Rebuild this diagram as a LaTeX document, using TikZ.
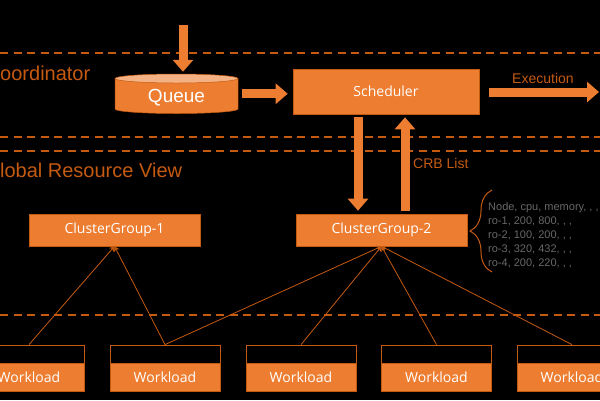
\documentclass[tikz,border=0pt]{standalone}
\usepackage{fontspec}
\setmainfont{Liberation Sans}
\newfontfamily\uifont{Open Sans}
\usetikzlibrary{arrows.meta,decorations.pathreplacing}
\definecolor{org}{HTML}{ED7D31}
\definecolor{dorg}{HTML}{C55A11}
\definecolor{lorg}{HTML}{F4B183}
\definecolor{tgray}{HTML}{686868}
\tikzset{
  blockarrow/.style={draw=org, line width=9pt, -{Triangle[width=20pt,length=12pt]}},
  sepline/.style={draw=dorg, line width=1.6pt, dash pattern=on 8pt off 5.5pt},
  boxnode/.style={fill=org, draw=dorg, line width=0.6pt, text=white, inner sep=0pt,
    font=\uifont\fontsize{14}{16}\selectfont},
  lanelabel/.style={text=dorg, inner sep=0pt, anchor=base west, font=\fontsize{20}{24}\selectfont},
  smalllabel/.style={text=dorg, inner sep=0pt, anchor=base west, font=\fontsize{14}{16}\selectfont},
  wltop/.style={draw=dorg, fill=black, line width=0.8pt, minimum width=110pt, minimum height=18pt, inner sep=0pt},
  wlbot/.style={boxnode, draw=dorg, line width=0.8pt, minimum width=110pt, minimum height=28pt},
  conn/.style={draw=dorg, line width=0.8pt, -{Stealth[width=6pt,length=5pt]}},
  bracestyle/.style={draw=dorg, line width=1pt, decorate, decoration={brace, amplitude=22pt, aspect=0.5}},
}
\begin{document}
\begin{tikzpicture}[x=1pt,y=-1pt]
\useasboundingbox (0,0) rectangle (600,400);
\clip (0,0) rectangle (600,400);
\fill[black] (0,0) rectangle (600,400);

% lane separators
\coordinate (s1a) at (0,53);  \coordinate (s1b) at (600,53);
\coordinate (s2a) at (0,137); \coordinate (s2b) at (600,137);
\coordinate (s3a) at (0,151); \coordinate (s3b) at (600,151);
\coordinate (s4a) at (0,315); \coordinate (s4b) at (600,315);
\draw[sepline] (s1a) -- (s1b);
\draw[sepline] (s2a) -- (s2b);
\draw[sepline] (s3a) -- (s3b);
\draw[sepline] (s4a) -- (s4b);

% lane labels
\node[lanelabel] (coordlbl) at (-14.4,80) {Coordinator};
\node[lanelabel] (grvlbl) at (-15.6,177) {Global Resource View};

% queue cylinder
\fill[org] (115,78.5) rectangle (238,109);
\fill[org] (176.5,109) ellipse [x radius=61.5, y radius=4.5];
\draw[dorg, line width=0.5pt] (238,78.5) -- (238,109) arc[start angle=0, end angle=180, x radius=61.5, y radius=4.5] -- (115,78.5);
\filldraw[fill=lorg, draw=dorg, line width=0.5pt] (176.5,78.5) ellipse [x radius=61.5, y radius=4.5];
\node[inner sep=0pt, minimum width=123pt, minimum height=39.5pt, text=white,
  text height=19pt, text depth=1pt,
  font=\fontsize{19}{22}\selectfont] (queue) at (176.5,93.75) {Queue};

% scheduler
\node[boxnode, minimum width=186pt, minimum height=45pt] (sched) at (386,91.5) {Scheduler};

% cluster groups
\node[boxnode, minimum width=171pt, minimum height=32pt] (cg1) at (114.5,230) {ClusterGroup-1};
\node[boxnode, minimum width=171pt, minimum height=32pt] (cg2) at (381.5,230) {ClusterGroup-2};

% block arrows
\coordinate (qin) at (183,25);
\draw[blockarrow, shorten >=2pt] (qin) -- (qin |- queue.north);
\draw[blockarrow, shorten <=4pt, shorten >=5pt] (queue.east) -- (queue.east -| sched.west);
\coordinate (execend) at (599,92);
\draw[blockarrow, shorten <=10pt] (sched.east |- execend) -- (execend);
\node[smalllabel] (execlbl) at (512,83) {Execution};
\coordinate (dn) at (358,0);
\coordinate (up) at (405,0);
\draw[blockarrow, shorten <=3pt, shorten >=3pt] (dn |- sched.south) -- (dn |- cg2.north);
\draw[blockarrow, shorten <=3pt, shorten >=3pt] (up |- cg2.north) -- (up |- sched.south);
\node[smalllabel] (crblbl) at (413,168) {CRB List};

% resource table with brace
\coordinate (brtop) at (492,190);
\coordinate (brbot) at (492,272);
\draw[bracestyle] (brbot) -- (brtop);
\node[anchor=north west, inner sep=0pt, align=left, text=tgray,
  font=\fontsize{11}{14}\selectfont] (table) at (488,202.5)
  {Node, cpu, memory, , ,\\ro-1, 200, 800, , ,\\ro-2, 100, 200, , ,\\ro-3, 320, 432, , ,\\ro-4, 200, 220, , ,};

% workloads
\foreach \i/\x in {1/29, 2/165, 3/301, 4/436.5, 5/572} {
  \node[wltop] (w\i t) at (\x,354) {};
  \node[wlbot] (w\i) at (\x,377) {Workload};
}

% connectors
\draw[conn] (w1t.north) -- (cg1.south);
\draw[conn] (w2t.north) -- (cg1.south);
\draw[conn] (w2t.north) -- (cg2.south);
\draw[conn] (w3t.north) -- (cg2.south);
\draw[conn] (w4t.north) -- (cg2.south);
\draw[conn] (w5t.north) -- (cg2.south);
\end{tikzpicture}
\end{document}
